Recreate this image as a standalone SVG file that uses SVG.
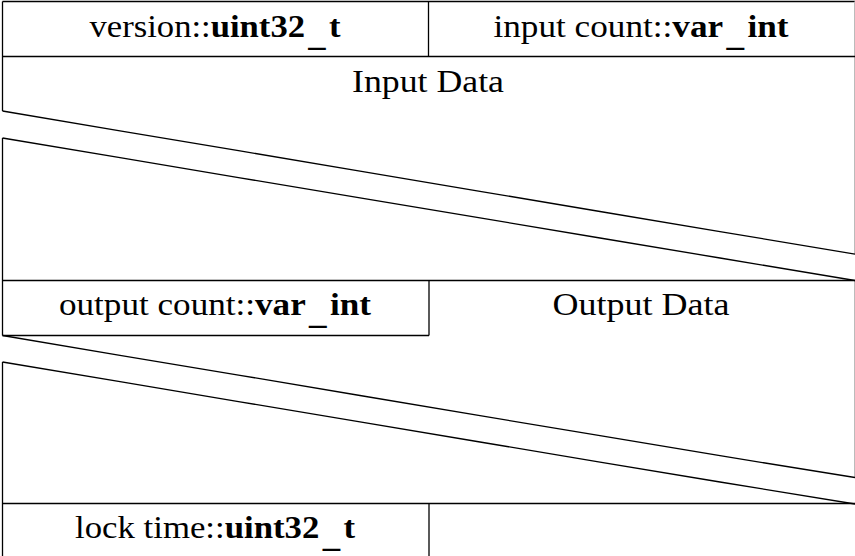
<svg xmlns="http://www.w3.org/2000/svg" width="855" height="556" viewBox="0 0 855 556">
<style>
  .ln { stroke: #000; stroke-width: 1.3; fill: none; }
  .edge { stroke: #bbb; stroke-width: 1; fill: none; }
  .t { font-family: "Liberation Serif", "Times New Roman", serif; font-size: 31.5px; fill: #000; text-anchor: middle; }
  .b { font-weight: bold; }
</style>
<rect width="855" height="556" fill="#fff"/>
<g id="frame">
  <line class="ln" x1="2.5" y1="1.5" x2="855" y2="1.5"/>
  <line class="edge" x1="854.5" y1="1.5" x2="854.5" y2="254"/>
  <line class="edge" x1="854.5" y1="280.5" x2="854.5" y2="477"/>
  <line class="ln" x1="2.5" y1="1.5" x2="2.5" y2="111"/>
  <line class="ln" x1="2.5" y1="138" x2="2.5" y2="335.5"/>
  <line class="ln" x1="2.5" y1="362" x2="2.5" y2="556"/>
</g>
<g id="version">
  <line class="ln" x1="428.5" y1="1.5" x2="428.5" y2="56.5"/>
  <text class="t" x="215" y="36.5" textLength="251" lengthAdjust="spacingAndGlyphs">version::<tspan class="b">uint32<tspan dx="3" dy="9">_</tspan><tspan dx="3" dy="-9">t</tspan></tspan></text>
</g>
<g id="input-count">
  <text class="t" x="641" y="36.5" textLength="295" lengthAdjust="spacingAndGlyphs">input count::<tspan class="b">var<tspan dx="3" dy="9">_</tspan><tspan dx="3" dy="-9">int</tspan></tspan></text>
</g>
<g id="input-data">
  <line class="ln" x1="2.5" y1="56.5" x2="855" y2="56.5"/>
  <text class="t" x="428" y="92" textLength="152" lengthAdjust="spacingAndGlyphs">Input Data</text>
  <path class="ln" d="M2.5 111 L120 130.8 L240 150.9 L360 171.2 L480 191.3 L600 211.5 L720 231.6 L855 254.2"/>
  <path class="ln" d="M2.5 138 L120 157.6 L240 177.8 L360 197.8 L480 217.9 L600 238 L720 258 L855 280.5"/>
</g>
<g id="output-count">
  <line class="ln" x1="2.5" y1="280.5" x2="855" y2="280.5"/>
  <line class="ln" x1="2.5" y1="335.5" x2="429" y2="335.5"/>
  <line class="ln" x1="429" y1="280.5" x2="429" y2="335.5"/>
  <text class="t" x="215" y="315" textLength="312" lengthAdjust="spacingAndGlyphs">output count::<tspan class="b">var<tspan dx="3" dy="9">_</tspan><tspan dx="3" dy="-9">int</tspan></tspan></text>
</g>
<g id="output-data">
  <text class="t" x="641" y="315" textLength="177" lengthAdjust="spacingAndGlyphs">Output Data</text>
  <path class="ln" d="M2.5 335.5 L120 355.3 L240 375.3 L360 395.5 L480 415.6 L600 435.7 L720 455.7 L855 477.5"/>
  <path class="ln" d="M2.5 362 L120 381.7 L240 401.8 L360 421.9 L480 442 L600 462.1 L720 482 L855 504"/>
</g>
<g id="lock-time">
  <line class="ln" x1="2.5" y1="503.5" x2="855" y2="503.5"/>
  <line class="ln" x1="429" y1="503.5" x2="429" y2="556"/>
  <text class="t" x="215" y="538" textLength="280" lengthAdjust="spacingAndGlyphs">lock time::<tspan class="b">uint32<tspan dx="3" dy="9">_</tspan><tspan dx="3" dy="-9">t</tspan></tspan></text>
</g>
</svg>
